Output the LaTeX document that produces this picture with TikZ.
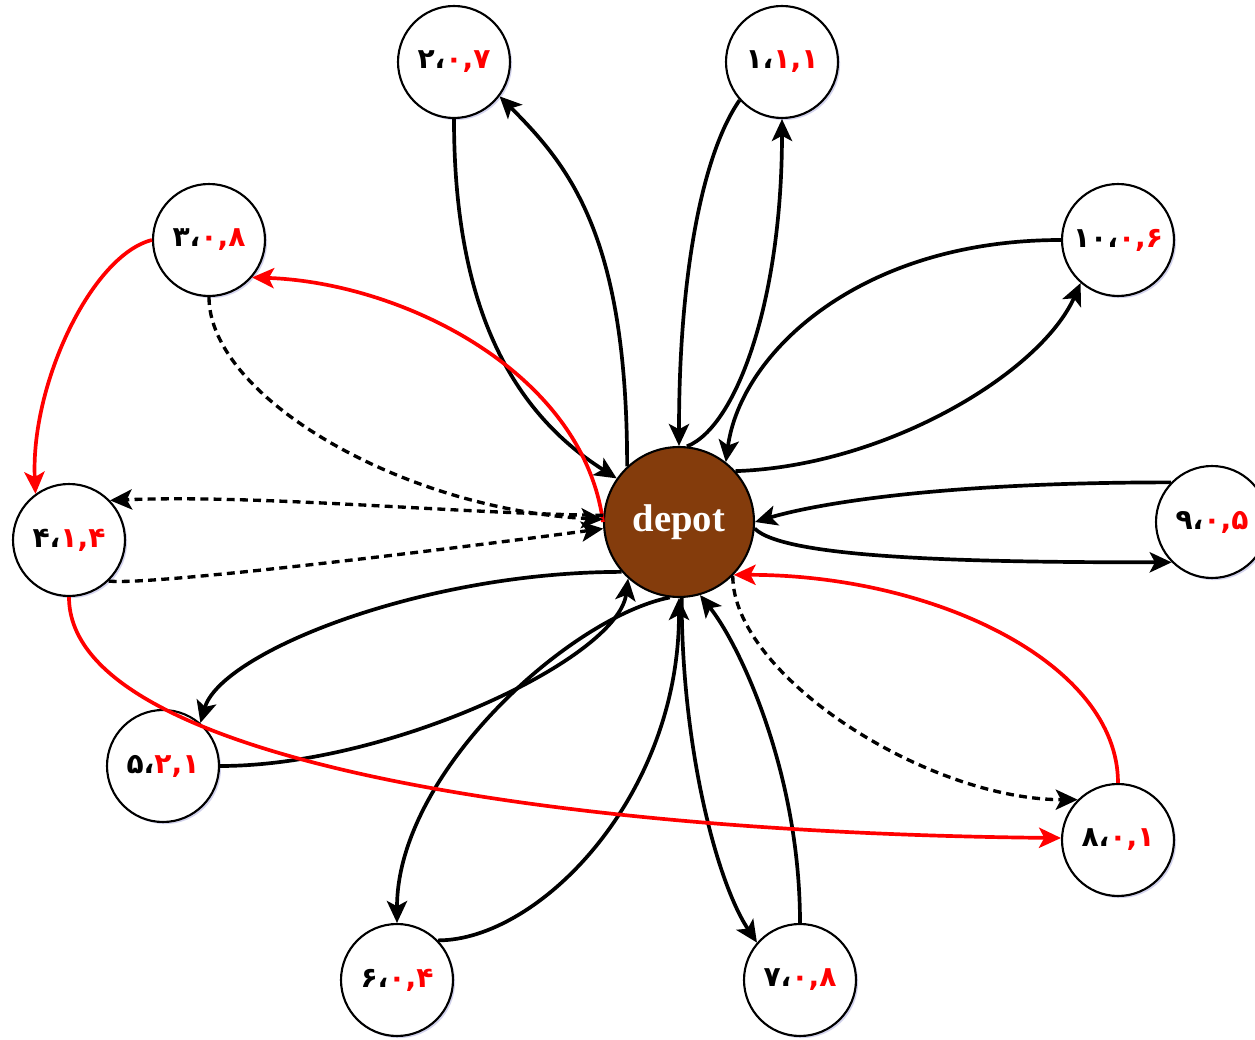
\documentclass[tikz,border=0pt]{standalone}
\usepackage{fontspec}
\setmainfont{Liberation Serif}
\newfontfamily\fa{DejaVu Sans}
\usetikzlibrary{arrows.meta,shadows}
\definecolor{depotbrown}{HTML}{843C0C}
\newcommand\citylabel[2]{{\fa\bfseries\fontsize{16}{18}\selectfont #1\textcolor{red}{#2}}}
\tikzset{
  city/.style={circle,draw=black,line width=1.2pt,fill=white,minimum size=2.24cm,inner sep=0pt,
    drop shadow={shadow xshift=1.2pt,shadow yshift=-1.2pt,fill=blue!40!gray,opacity=0.25}},
  depotnode/.style={circle,draw=black,line width=1.2pt,fill=depotbrown,minimum size=3.0cm,inner sep=0pt,
    text=white,font=\bfseries\fontsize{22}{26}\selectfont},
  tip/.style={-{Stealth[length=12.5pt,width=11.5pt,inset=3pt]}},
  blk/.style={tip,line width=2.1pt,draw=black},
  redl/.style={tip,line width=2.1pt,draw=red},
  dsh/.style={tip,line width=1.9pt,draw=black,dash pattern=on 4.5pt off 3pt},
}
\begin{document}
\begin{tikzpicture}[x=0.02cm,y=0.02cm]
\useasboundingbox (0,0) rectangle (1255,1039);
\node[depotnode] (dep) at (679,517) {depot};
\node[city] (n2) at (454,977) {\citylabel{۲،}{۰,۷}};
\node[city] (n1) at (782,977) {\citylabel{۱،}{۱,۱}};
\node[city] (n3) at (209,799) {\citylabel{۳،}{۰,۸}};
\node[city] (n10) at (1118,799) {\citylabel{۱۰،}{۰,۶}};
\node[city] (n4) at (69,499) {\citylabel{۴،}{۱,۴}};
\node[city] (n9) at (1212,517) {\citylabel{۹،}{۰,۵}};
\node[city] (n5) at (163,273) {\citylabel{۵،}{۲,۱}};
\node[city] (n8) at (1118,199) {\citylabel{۸،}{۰,۱}};
\node[city] (n6) at (397,59) {\citylabel{۶،}{۰,۴}};
\node[city] (n7) at (800,59) {\citylabel{۷،}{۰,۸}};
% black solid
\draw[blk] (n2.-90) .. controls +(0,-180) and +(-110,70) .. (dep.145);
\draw[blk] (dep.133) .. controls +(0,230) and +(70,-70) .. (n2.-37);
\draw[blk] (n1.222) .. controls +(-35,-50) and +(0,180) .. (dep.90);
\draw[blk] (dep.84) .. controls +(50,20) and +(0,-180) .. (n1.-90);
\draw[blk] (n10.180) .. controls +(-200,0) and +(15,110) .. (dep.52);
\draw[blk] (dep.42) .. controls +(150,5) and +(-40,-90) .. (n10.229);
\draw[blk] (n9.136) .. controls +(-250,0) and +(50,15) .. (dep.0);
\draw[blk] (dep.-5) .. controls +(30,-30) and +(-200,0) .. (n9.225);
\draw[blk] (dep.221) .. controls +(-200,0) and +(20,70) .. (n5.49);
\draw[blk] (n5.0) .. controls +(170,0) and +(-10,-80) .. (dep.228);
\draw[blk] (dep.-97) .. controls +(-100,-20) and +(0,150) .. (n6.90);
\draw[blk] (n6.44) .. controls +(100,0) and +(0,-200) .. (dep.-90);
\draw[blk] (dep.-88) .. controls +(0,-150) and +(-40,60) .. (n7.139);
\draw[blk] (n7.90) .. controls +(0,150) and +(40,-50) .. (dep.-74);
% red
\draw[redl] (dep.180) .. controls +(-20,150) and +(150,-5) .. (n3.-41);
\draw[redl] (n3.180) .. controls +(-60,-15) and +(-5,110) .. (n4.126);
\draw[redl] (n4.-90) .. controls +(0,-164) and +(-500,5) .. (n8.178);
\draw[redl] (n8.90) .. controls +(0,120) and +(200,0) .. (dep.-44);
% dashed
\draw[dsh] (n3.-90) .. controls +(0,-100) and +(-200,10) .. (dep.178);
\draw[dsh] (dep.175) .. controls +(-150,2) and +(150,6) .. (n4.44);
\draw[dsh] (n4.-46) .. controls +(40,-5) and +(-150,-20) .. (dep.185);
\draw[dsh] (dep.-45) .. controls +(0,-100) and +(-150,0) .. (n8.135);
\end{tikzpicture}
\end{document}
